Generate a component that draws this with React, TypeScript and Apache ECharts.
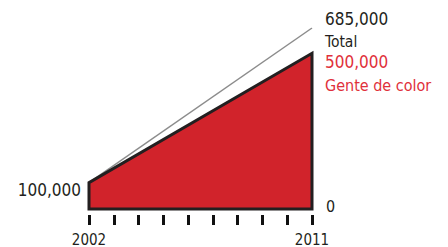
import React, { useEffect, useRef } from "react";
import * as echarts from "echarts";

const years = [2002, 2011];
const totalValues = [100000, 685000];
const genteValues = [100000, 500000];
const totalLabel = "Total";
const genteLabel = "Gente de color";
const baseLabel = "0";
const shownYears = [2002, 2011];

const fmt = (v: number) => v.toLocaleString("en-US");
const FONT = "'DejaVu Sans Condensed', 'DejaVu Sans', sans-serif";
const RED = "#d1232b";
const RED_TEXT = "#e0303a";
const DARK = "#231f20";
const GRAY = "#8c8c8c";

export default function App() {
  const ref = useRef<HTMLDivElement>(null);
  useEffect(() => {
    document.body.style.margin = "0";
    if (!ref.current) return;
    const chart = echarts.init(ref.current, undefined, { renderer: "svg" });
    const yMin = 72000;
    const n = years.length;
    const txt = (x: number, y: number, text: string, size: number, color: string, align = "left") => ({
      type: "text",
      x,
      y,
      style: { text, fontFamily: FONT, fontSize: size, fill: color, verticalAlign: "middle", align },
    });
    chart.setOption({
      animation: false,
      grid: { left: 89, right: 136, top: 28, bottom: 38 },
      xAxis: {
        type: "value",
        min: years[0],
        max: years[n - 1],
        interval: 1,
        offset: 6,
        splitLine: { show: false },
        axisLine: { show: false },
        axisTick: { show: true, length: 10, lineStyle: { color: "#111", width: 3 } },
        axisLabel: {
          margin: 17,
          fontFamily: FONT,
          fontSize: 15,
          color: DARK,
          formatter: (v: number) => (shownYears.includes(v) ? String(v) : ""),
        },
      },
      yAxis: {
        type: "log",
        logBase: 10,
        min: yMin,
        max: totalValues[n - 1],
        show: false,
      },
      series: [
        {
          type: "line",
          data: years.map((y, i) => [y, totalValues[i]]),
          symbol: "none",
          lineStyle: { color: GRAY, width: 1.5 },
          z: 1,
        },
        {
          type: "custom",
          coordinateSystem: "cartesian2d",
          data: years.map((y, i) => [y, genteValues[i]]),
          z: 2,
          renderItem: (params: any, api: any) => {
            if (params.dataIndex !== 0) return null;
            const pts: number[][] = [];
            pts.push(api.coord([years[0], yMin]));
            for (let i = 0; i < n; i++) pts.push(api.coord([years[i], genteValues[i]]));
            pts.push(api.coord([years[n - 1], yMin]));
            const br = api.coord([years[n - 1], yMin]);
            const gStart = api.coord([years[0], genteValues[0]]);
            const gEnd = api.coord([years[n - 1], genteValues[n - 1]]);
            const tEnd = api.coord([years[n - 1], totalValues[n - 1]]);
            return {
              type: "group",
              children: [
                {
                  type: "polygon",
                  shape: { points: pts },
                  style: { fill: RED, stroke: DARK, lineWidth: 3, lineJoin: "miter" },
                },
                txt(br[0] + 14, br[1] - 3, baseLabel, 16, DARK),
                txt(gStart[0] - 8, gStart[1] + 7, fmt(genteValues[0]), 17, DARK, "right"),
                txt(tEnd[0] + 13, tEnd[1] - 9, fmt(totalValues[n - 1]), 17, DARK),
                txt(tEnd[0] + 13, tEnd[1] + 14, totalLabel, 15.5, DARK),
                txt(gEnd[0] + 13, gEnd[1] + 9, fmt(genteValues[n - 1]), 17, RED_TEXT),
                txt(gEnd[0] + 13, gEnd[1] + 32, genteLabel, 16, RED_TEXT),
              ],
            };
          },
        },
      ],
    });
    return () => chart.dispose();
  }, []);
  return <div ref={ref} style={{ width: 448, height: 247 }} />;
}
